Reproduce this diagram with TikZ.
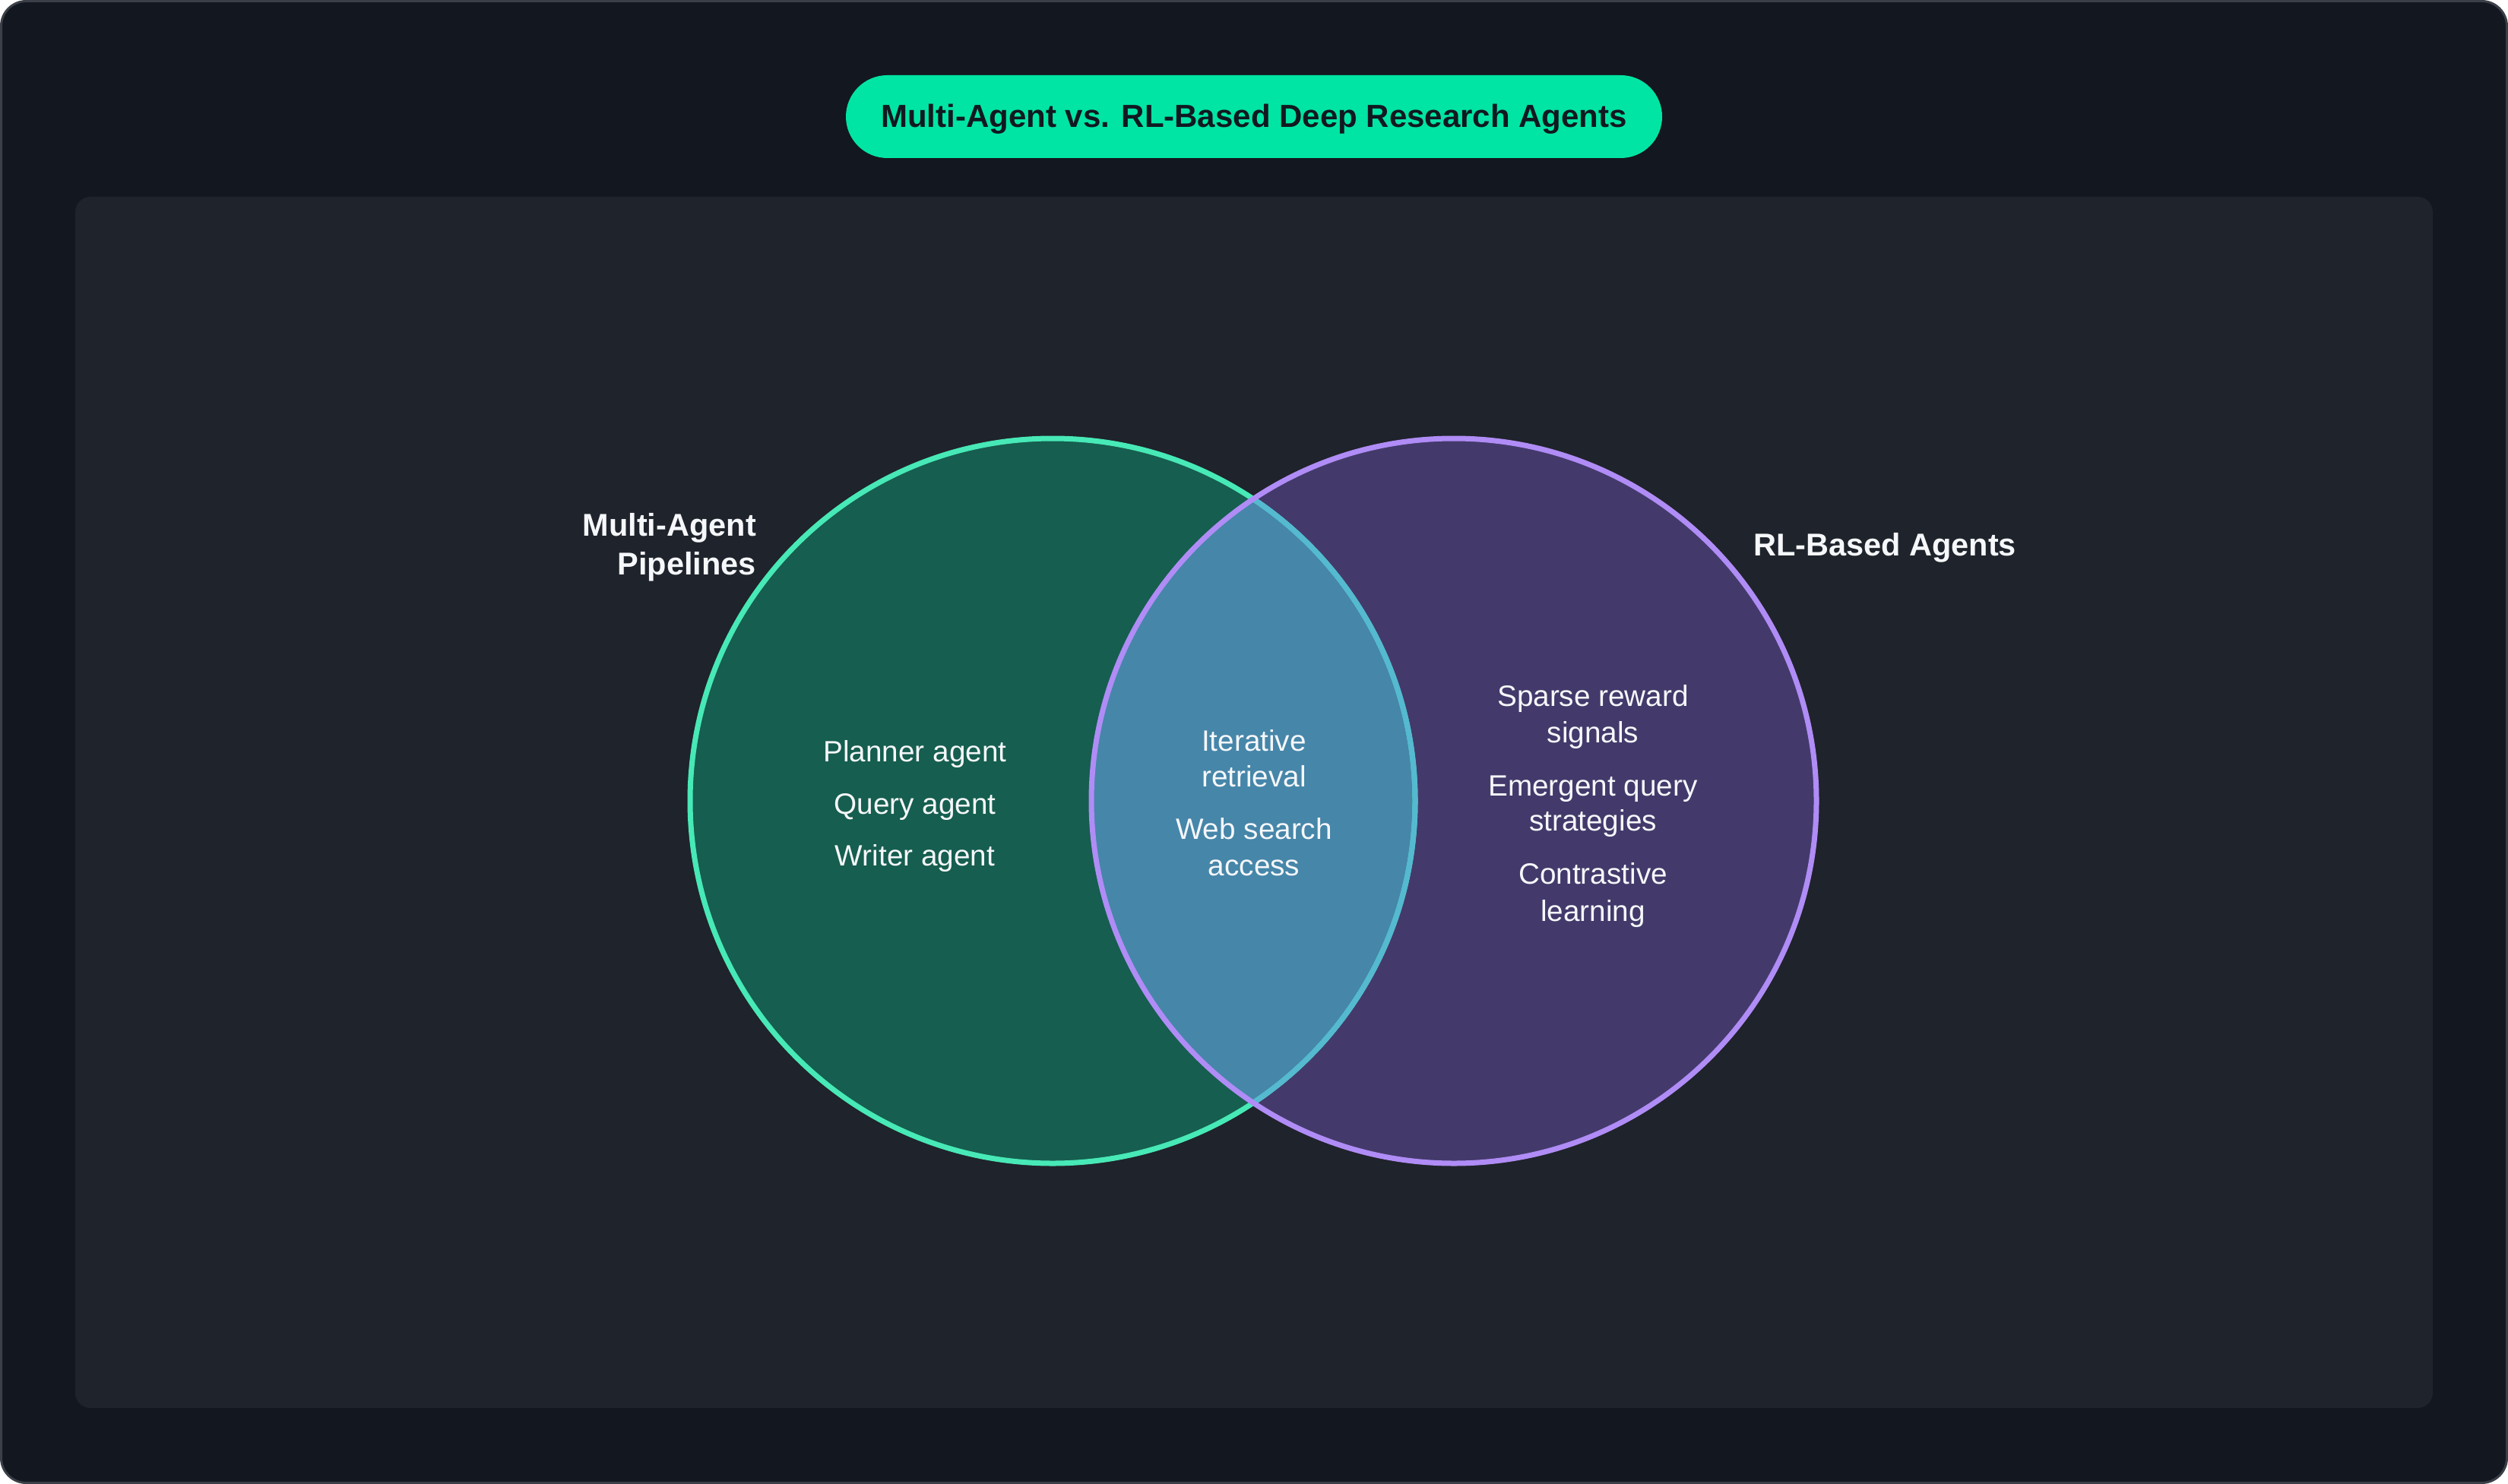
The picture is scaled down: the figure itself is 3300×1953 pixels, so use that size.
\documentclass[tikz,border=0pt]{standalone}
\usepackage{fontspec}
\setmainfont{Liberation Sans}
\definecolor{outerbg}{HTML}{13171F}
\definecolor{outerline}{HTML}{3B3F47}
\definecolor{panelbg}{HTML}{1F232B}
\definecolor{pill}{HTML}{00E5A3}
\definecolor{pilltext}{HTML}{111820}
\definecolor{leftfill}{HTML}{165E4F}
\definecolor{leftline}{HTML}{47E9B6}
\definecolor{rightfill}{HTML}{433A6B}
\definecolor{rightline}{HTML}{B08CF6}
\definecolor{lensfill}{HTML}{4686A9}
\definecolor{lensline}{HTML}{55B9D0}
\definecolor{txt}{HTML}{F5F7FA}
\begin{document}
\begin{tikzpicture}[x=1pt,y=-1pt,
  itemtext/.style={inner sep=0pt, anchor=base, text=txt, font=\fontsize{38.7}{47}\selectfont},
  labeltext/.style={inner sep=0pt, text=txt, align=right, font=\bfseries\fontsize{41.5}{51}\selectfont},
  titletext/.style={inner sep=0pt, anchor=base, text=pilltext, font=\bfseries\fontsize{42}{50}\selectfont}]
\useasboundingbox (0,0) rectangle (3300,1953);
% frame and panel
\draw[fill=outerbg, draw=outerline, line width=3pt, rounded corners=33pt] (1.5,1.5) rectangle (3298.5,1951.5);
\fill[panelbg, rounded corners=20pt] (99,259) rectangle (3201,1853);
% title
\fill[pill, rounded corners=54.5pt] (1113,99) rectangle (2187,208);
\node[titletext] (title) at (1650,168) {Multi-Agent vs. RL-Based Deep Research Agents};
% circles
\coordinate (cl) at (1385,1054);
\coordinate (cr) at (1913,1054);
\fill[leftfill] (cl) circle[radius=477];
\fill[rightfill] (cr) circle[radius=477];
\begin{scope}
  \clip (cr) circle[radius=477];
  \fill[lensfill] (cl) circle[radius=477];
\end{scope}
\draw[leftline, line width=7pt] (cl) circle[radius=477];
\begin{scope}
  \clip (cr) circle[radius=477];
  \draw[lensline, line width=7pt] (cl) circle[radius=477];
\end{scope}
\draw[rightline, line width=7pt] (cr) circle[radius=477];
% labels
\node[labeltext, anchor=base east] (lbl1a) at (995,705) {Multi-Agent};
\node[labeltext, anchor=base east] (lbl1b) at (995,756) {Pipelines};
\node[labeltext, anchor=base west] (lbl2) at (2307,731) {RL-Based Agents};
% left items
\node[itemtext] (l1) at (1204,1002) {Planner agent};
\node[itemtext] (l2) at (1204,1071) {Query agent};
\node[itemtext] (l3) at (1204,1139) {Writer agent};
% center items
\node[itemtext] (c1a) at (1650,988) {Iterative};
\node[itemtext] (c1b) at (1650,1035) {retrieval};
\node[itemtext] (c2a) at (1650,1104) {Web search};
\node[itemtext] (c2b) at (1650,1152) {access};
% right items
\node[itemtext] (r1a) at (2096,929) {Sparse reward};
\node[itemtext] (r1b) at (2096,977) {signals};
\node[itemtext] (r2a) at (2096,1047) {Emergent query};
\node[itemtext] (r2b) at (2096,1093) {strategies};
\node[itemtext] (r3a) at (2096,1163) {Contrastive};
\node[itemtext] (r3b) at (2096,1212) {learning};
\end{tikzpicture}
\end{document}
